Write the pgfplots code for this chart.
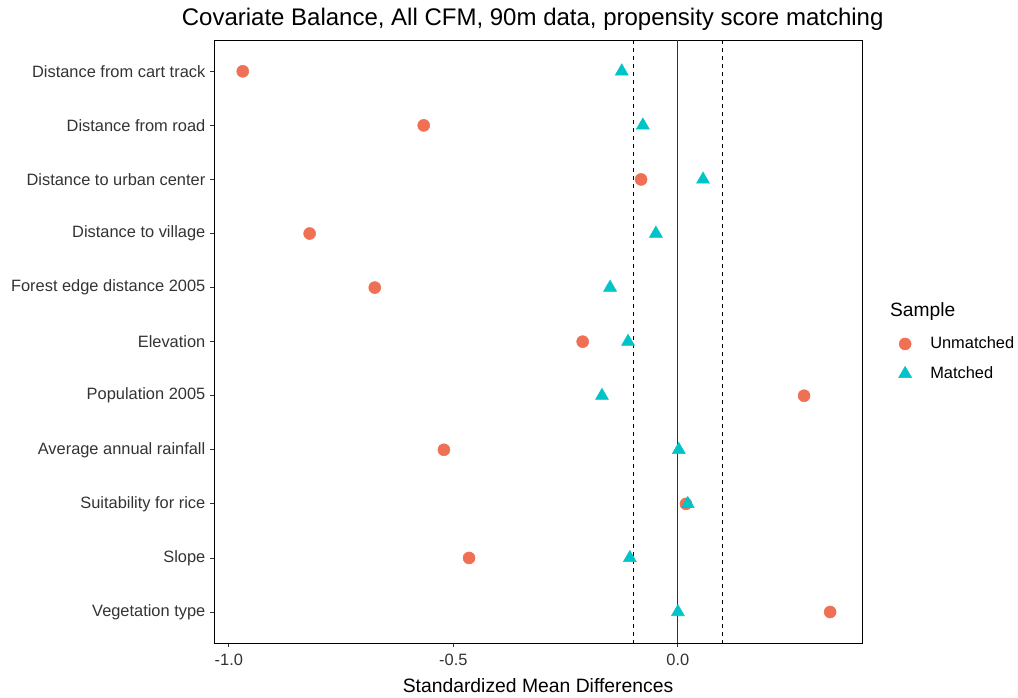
\documentclass[border=0pt]{standalone}
\usepackage{pgfplots}
\pgfplotsset{compat=1.18}
\usepackage{fontspec}
\setmainfont{Liberation Sans}
\definecolor{umred}{RGB}{240,112,86}
\definecolor{mcyan}{RGB}{0,196,200}
\begin{document}
\begin{tikzpicture}
\path[use as bounding box] (0,0) rectangle (763.5pt,523.5pt);
\begin{axis}[
 at={(160.5pt,41.25pt)}, anchor=south west,
 scale only axis, width=486pt, height=452pt,
 clip mode=individual,
 xmin=-1.033, xmax=0.410, ymin=0.427, ymax=11.573, y dir=reverse,
 xtick={-1,-0.5,0}, xticklabels={-1.0,-0.5,0.0},
 ytick={1,2,3,4,5,6,7,8,9,10,11},
 yticklabels={Distance from cart track,Distance from road,Distance to urban center,Distance to village,Forest edge distance 2005,Elevation,Population 2005,Average annual rainfall,Suitability for rice,Slope,Vegetation type},
 tick align=outside, tick pos=left, major tick length=3pt,
 tick style={black!80, line width=0.6pt},
 axis line style={line width=0.6pt},
 ticklabel style={font=\fontsize{12.3}{14}\selectfont, text=black!80},
 xticklabel style={yshift=-2pt},
 title={Covariate Balance, All CFM, 90m data, propensity score matching},
 title style={font=\fontsize{18}{21}\selectfont, at={(0.5,1)}, anchor=base, yshift=5pt, xshift=-4pt},
 xlabel={Standardized Mean Differences},
 xlabel style={font=\fontsize{14.5}{17}\selectfont, at={(axis description cs:0.5,0)}, anchor=base, yshift=-37pt},
 legend style={at={(1.05,0.517)}, anchor=north west, draw=none, fill=none, font=\fontsize{12.3}{14}\selectfont, row sep=8pt},
 legend cell align=left,
]
\addplot[forget plot, dashed, line width=0.6pt, black] coordinates {(-0.1,0.427) (-0.1,11.573)};
\addplot[forget plot, dashed, line width=0.6pt, black] coordinates {(0.1,0.427) (0.1,11.573)};
\addplot[forget plot, line width=0.6pt, black!80] coordinates {(0,0.427) (0,11.573)};
\addplot[only marks, mark=*, mark size=4.5pt, color=umred] coordinates {
(-0.969,1) (-0.566,2) (-0.082,3) (-0.820,4) (-0.675,5) (-0.212,6) (0.281,7) (-0.521,8) (0.018,9) (-0.465,10) (0.339,11)};
\addlegendentry{\hspace{12pt}Unmatched}
\addplot[only marks, mark=triangle*, mark size=5.6pt, color=mcyan] coordinates {
(-0.125,1) (-0.078,2) (0.056,3) (-0.049,4) (-0.151,5) (-0.111,6) (-0.169,7) (0.002,8) (0.022,9) (-0.107,10) (0.0,11)};
\addlegendentry{\hspace{12pt}Matched}
\node[anchor=base west, inner sep=0pt, font=\fontsize{14.4}{17}\selectfont] at (axis description cs:1.043,0.542) {Sample};
\end{axis}
\end{tikzpicture}
\end{document}
